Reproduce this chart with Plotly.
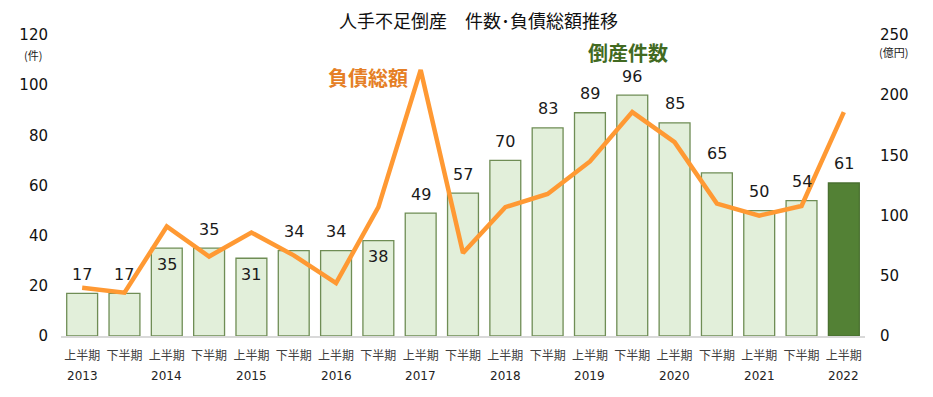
import plotly.graph_objects as go

# ---- data ----
periods = ["2013上", "2013下", "2014上", "2014下", "2015上", "2015下", "2016上", "2016下",
           "2017上", "2017下", "2018上", "2018下", "2019上", "2019下", "2020上", "2020下",
           "2021上", "2021下", "2022上"]
half_labels = ["上半期", "下半期"] * 9 + ["上半期"]
years = ["2013", "2014", "2015", "2016", "2017", "2018", "2019", "2020", "2021", "2022"]
counts = [17, 17, 35, 35, 31, 34, 34, 38, 49, 57, 70, 83, 89, 96, 85, 65, 50, 54, 61]
debt = [40, 36, 91, 66, 86, 67, 44, 107, 221, 69, 107, 118, 145, 186, 161, 110, 100, 108, 186]

# ---- styles ----
label_inside = [False, False, True, False, True, False, False, True] + [False] * 11
bar_fill = ["#e2efda"] * 18 + ["#538135"]
bar_line = ["#6f8d55"] * 18 + ["#4a7030"]
NUM_FONT = "DejaVu Sans, Verdana, sans-serif"
JP_FONT = "Noto Sans CJK JP, sans-serif"

fig = go.Figure()
fig.add_trace(go.Bar(
    x=periods, y=counts,
    marker=dict(color=bar_fill, line=dict(color=bar_line, width=1.3)),
    width=0.73, showlegend=False, hoverinfo="skip",
))
fig.add_trace(go.Scatter(
    x=periods, y=debt, yaxis="y2", mode="lines",
    line=dict(color="#ff9933", width=4.5), showlegend=False, hoverinfo="skip",
))

annotations = []
for p, v, ins in zip(periods, counts, label_inside):
    annotations.append(dict(
        x=p, y=v, xref="x", yref="y", text=str(v), showarrow=False,
        yanchor="middle", yshift=-16 if ins else 19,
        font=dict(family=NUM_FONT, size=16, color="#1a1a1a"),
    ))
# years under first half labels
first_halves = [p for p, h in zip(periods, half_labels) if h == "上半期"]
for p, yr in zip(first_halves, years):
    annotations.append(dict(
        x=p, y=0, xref="x", yref="paper", text=yr, showarrow=False,
        yanchor="middle", yshift=-40,
        font=dict(family=NUM_FONT, size=12, color="#222222"),
    ))
# titles / series labels / units (page pixel positions)
annotations += [
    dict(x=478, y=20, text="人手不足倒産　件数･負債総額推移",
         showarrow=False, font=dict(family=JP_FONT, size=18, color="#111111")),
    dict(x=628, y=52, text="<b>倒産件数</b>", showarrow=False,
         font=dict(family=JP_FONT, size=20, color="#426a22")),
    dict(x=368, y=77, text="<b>負債総額</b>", showarrow=False,
         font=dict(family=JP_FONT, size=20, color="#e57f26")),
    dict(x=33, y=55, text="(件)", showarrow=False,
         font=dict(family=JP_FONT, size=11, color="#222222")),
    dict(x=893, y=52, text="(億円)", showarrow=False,
         font=dict(family=JP_FONT, size=11, color="#222222")),
]
# page has 8px body margin
OFF = 8
W, H = 933 - OFF, 397 - OFF
L, R, T, B = 61 - OFF, 68, 35 - OFF, 61
for a in annotations[-5:]:
    a["x"] = (a["x"] - OFF - L) / (W - L - R)
    a["y"] = 1 - (a["y"] - OFF - T) / (H - T - B)
    a["xref"] = "paper"
    a["yref"] = "paper"
    a["xanchor"] = "center"
    a["yanchor"] = "middle"

fig.update_layout(
    width=W, height=H,
    margin=dict(l=L, r=R, t=T, b=B),
    paper_bgcolor="white", plot_bgcolor="white",
    bargap=0.27,
    annotations=annotations,
    xaxis=dict(
        type="category", tickmode="array", tickvals=periods, ticktext=half_labels,
        showline=True, linecolor="#d9d9d9", linewidth=1.5, showgrid=False,
        ticks="", ticklabelstandoff=8,
        tickfont=dict(family=JP_FONT, size=12, color="#404040"),
        range=[-0.5, len(periods) - 0.5],
    ),
    yaxis=dict(
        range=[0, 120], dtick=20, showgrid=False, zeroline=False, showline=False,
        ticks="", ticklabelstandoff=12,
        tickfont=dict(family=NUM_FONT, size=15, color="#111111"),
    ),
    yaxis2=dict(
        range=[0, 250], dtick=50, overlaying="y", side="right", showgrid=False,
        zeroline=False, showline=False, ticks="", ticklabelstandoff=14,
        tickfont=dict(family=NUM_FONT, size=15, color="#111111"),
    ),
)

fig.write_html("out.html")
